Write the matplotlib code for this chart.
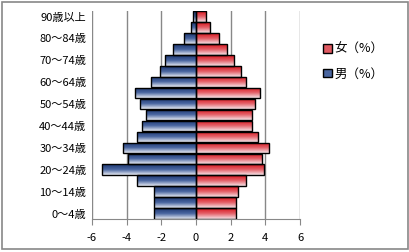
import numpy as np
import matplotlib
matplotlib.use("Agg")
import matplotlib.pyplot as plt
from matplotlib.colors import LinearSegmentedColormap
from matplotlib.patches import Patch

plt.rcParams['font.family'] = ['Noto Sans CJK JP', 'DejaVu Sans']

# age groups from bottom to top
age_groups = ["0～4歳", "5～9歳", "10～14歳", "15～19歳", "20～24歳", "25～29歳",
              "30～34歳", "35～39歳", "40～44歳", "45～49歳", "50～54歳", "55～59歳",
              "60～64歳", "65～69歳", "70～74歳", "75～79歳", "80～84歳", "85～89歳",
              "90歳以上"]
male_pct = [2.4, 2.4, 2.4, 3.4, 5.4, 3.9, 4.2, 3.4, 3.1, 2.9, 3.2, 3.5,
            2.6, 2.1, 1.8, 1.3, 0.7, 0.3, 0.2]
female_pct = [2.3, 2.3, 2.4, 2.9, 3.9, 3.8, 4.2, 3.6, 3.2, 3.2, 3.4, 3.7,
              2.9, 2.6, 2.2, 1.8, 1.3, 0.8, 0.6]
x_ticks = [-6, -4, -2, 0, 2, 4, 6]

blue_cmap = LinearSegmentedColormap.from_list("blue", ["#1c3670", "#4a66a0", "#e8ecf4"])
red_cmap = LinearSegmentedColormap.from_list("red", ["#d8141c", "#e4626a", "#f6e4e8"])

fig = plt.figure(figsize=(4.1, 2.52), dpi=100)
ax = fig.add_axes([0.224, 0.131, 0.508, 0.825])

y = np.arange(len(age_groups))
grad = np.linspace(0, 1, 64).reshape(-1, 1)
bar_h = 0.96


def gradient_bars(values, cmap):
    bars = ax.barh(y, values, height=bar_h, facecolor="none",
                   edgecolor="black", linewidth=1.0, zorder=3)
    for b in bars:
        x0, y0 = b.get_x(), b.get_y()
        w, h = b.get_width(), b.get_height()
        im = ax.imshow(grad, cmap=cmap, aspect="auto", origin="upper",
                       extent=(x0, x0 + w, y0, y0 + h), zorder=2)
        im.set_clip_path(b)
    return bars


gradient_bars(-np.array(male_pct), blue_cmap)
gradient_bars(np.array(female_pct), red_cmap)

ax.set_xlim(-6, 6)
ax.set_ylim(-0.5, len(age_groups) - 0.5)
ax.set_xticks(x_ticks)
ax.set_xticklabels([str(t) for t in x_ticks], fontsize=8)
ax.set_yticks(y[::2])
ax.set_yticklabels(age_groups[::2], fontsize=8)
ax.tick_params(axis="y", length=0, pad=4)
ax.tick_params(axis="x", length=4, color="#888888", pad=6)

for t in x_ticks:
    if t != 0:
        ax.axvline(t, color="#888888", linewidth=1.0, zorder=1)
ax.axvline(0, color="#555555", linewidth=1.0, zorder=1)

for side in ["top", "right", "left"]:
    ax.spines[side].set_visible(False)
ax.spines["bottom"].set_color("#888888")

handles = [Patch(facecolor="#e05a62", edgecolor="black", label="女（%）"),
           Patch(facecolor="#4a66a0", edgecolor="black", label="男（%）")]
fig.legend(handles=handles, loc="center left", bbox_to_anchor=(0.76, 0.755),
           frameon=False, fontsize=9, handlelength=0.7, handleheight=0.7,
           handletextpad=0.2, labelspacing=0.9)

fig.patches.append(plt.Rectangle((0.005, 0.01), 0.99, 0.983, transform=fig.transFigure,
                                 fill=False, edgecolor="#888888", linewidth=1.2))

fig.savefig("out.png", dpi=100)
